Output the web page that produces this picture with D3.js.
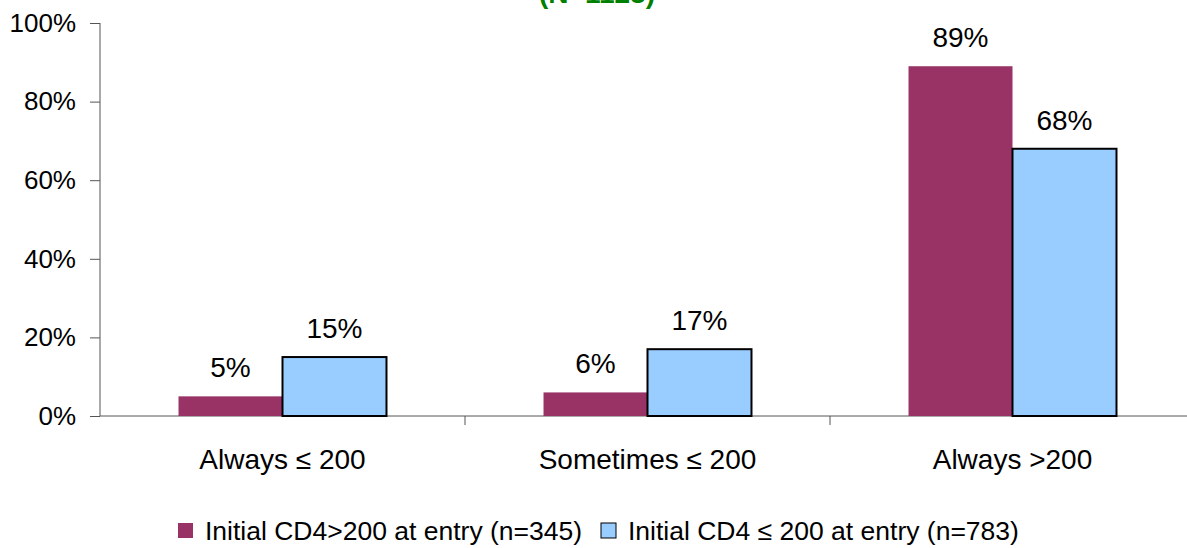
<!DOCTYPE html>
<html>
<head>
<meta charset="utf-8">
<script src="https://cdn.jsdelivr.net/npm/d3@7"></script>
<style>
  body { margin: 0; background: #fff; }
  svg { font-family: Arial, "Liberation Sans", sans-serif; }
</style>
</head>
<body>
<svg id="chart" width="1187" height="548"></svg>
<script>
// Chart data
const categories = ['Always \u2264 200', 'Sometimes \u2264 200', 'Always >200'];
const seriesNames = ['Initial CD4>200 at entry (n=345)', 'Initial CD4 \u2264 200 at entry (n=783)'];
const highCD4 = [5, 6, 89];
const lowCD4 = [15, 17, 68];
const yTicks = [0, 20, 40, 60, 80, 100];
const titleText = '(N=1128)';

const svg = d3.select('#chart');

const plotLeft = 100, plotRight = 1195, plotTop = 23, plotBottom = 416;
const barColors = ['#993366', '#99CCFF'];
const barStroke = [null, '#000'];

const x0 = d3.scaleBand().domain(categories).range([plotLeft, plotRight]).padding(0);
const x1 = d3.scaleBand().domain([0, 1]).range([0, x0.bandwidth()])
    .paddingInner(0).paddingOuter(0.755);
const y = d3.scaleLinear().domain([0, 100]).range([plotBottom, plotTop]);

// Title (mostly cropped off the top)
svg.append('text')
    .attr('x', 597).attr('y', 3)
    .attr('text-anchor', 'middle')
    .attr('font-size', 28).attr('font-weight', 'bold')
    .attr('fill', '#008000')
    .text(titleText);

// Y axis
const yAxis = svg.append('g')
    .attr('transform', `translate(${plotLeft},0)`)
    .call(d3.axisLeft(y).tickValues(yTicks).tickSize(10).tickPadding(14)
        .tickFormat(d => d + '%'));
yAxis.selectAll('text').attr('font-size', 26).attr('fill', '#000')
    .attr('font-family', 'Arial, "Liberation Sans", sans-serif');
yAxis.selectAll('line, path').attr('stroke', '#555');
yAxis.select('.domain').attr('d', `M0,${plotTop}V${plotBottom}`);

// X axis line and separators
svg.append('line')
    .attr('x1', plotLeft).attr('x2', plotRight)
    .attr('y1', plotBottom).attr('y2', plotBottom)
    .attr('stroke', '#555');
svg.selectAll('.sep')
    .data(categories.slice(1))
    .enter().append('line')
    .attr('class', 'sep')
    .attr('x1', d => x0(d)).attr('x2', d => x0(d))
    .attr('y1', plotBottom).attr('y2', plotBottom + 9)
    .attr('stroke', '#555');

// Category labels
svg.selectAll('.cat')
    .data(categories)
    .enter().append('text')
    .attr('class', 'cat')
    .attr('x', d => x0(d) + x0.bandwidth() / 2)
    .attr('y', 469)
    .attr('text-anchor', 'middle')
    .attr('font-size', 28)
    .text(d => d);

// Bars
const rows = categories.map((c, i) => ({ cat: c, vals: [highCD4[i], lowCD4[i]] }));
const groups = svg.selectAll('.grp')
    .data(rows)
    .enter().append('g')
    .attr('class', 'grp')
    .attr('transform', d => `translate(${x0(d.cat)},0)`);

groups.selectAll('rect')
    .data(d => d.vals.map((v, s) => ({ v, s })))
    .enter().append('rect')
    .attr('x', d => x1(d.s))
    .attr('y', d => y(d.v))
    .attr('width', x1.bandwidth())
    .attr('height', d => plotBottom - y(d.v))
    .attr('fill', d => barColors[d.s])
    .attr('stroke', d => barStroke[d.s])
    .attr('stroke-width', d => barStroke[d.s] ? 2 : 0);

groups.selectAll('.val')
    .data(d => d.vals.map((v, s) => ({ v, s })))
    .enter().append('text')
    .attr('class', 'val')
    .attr('x', d => x1(d.s) + x1.bandwidth() / 2)
    .attr('y', d => y(d.v) - 19)
    .attr('text-anchor', 'middle')
    .attr('font-size', 28)
    .text(d => d.v + '%');

// Legend
const legend = svg.append('g').attr('transform', 'translate(178,523)');
const legendX = [0, 423];
seriesNames.forEach((name, i) => {
    legend.append('rect')
        .attr('x', legendX[i]).attr('y', 0)
        .attr('width', 15).attr('height', 15)
        .attr('fill', barColors[i])
        .attr('stroke', barStroke[i] || 'none')
        .attr('stroke-width', 1);
    legend.append('text')
        .attr('x', legendX[i] + 27).attr('y', 17)
        .attr('font-size', 26.5)
        .text(name);
});
</script>
</body>
</html>
